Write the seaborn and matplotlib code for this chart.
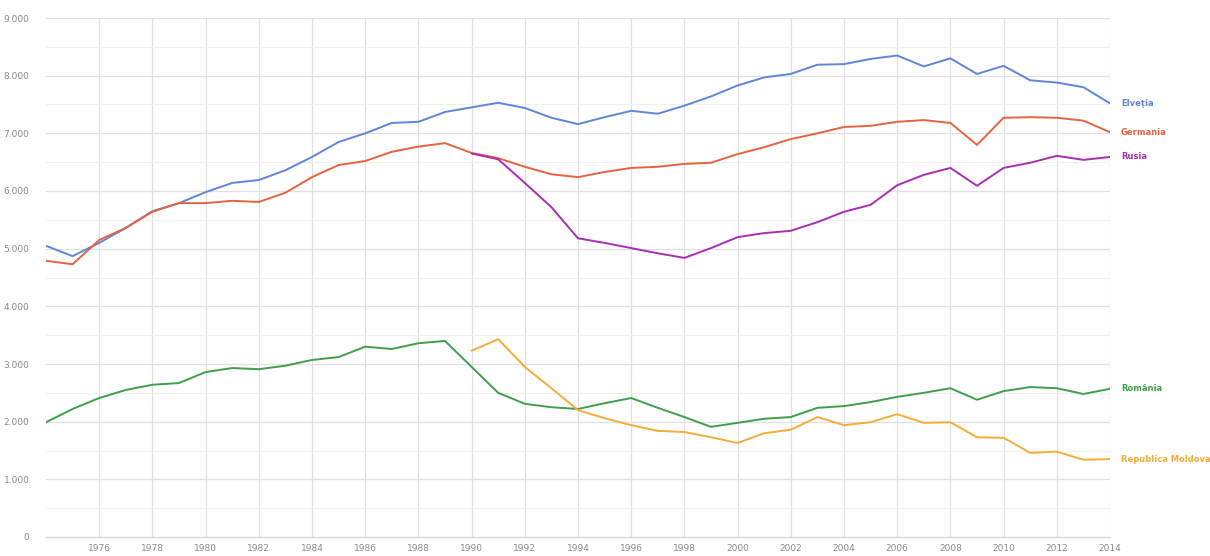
import numpy as np
import pandas as pd
import matplotlib
matplotlib.use("Agg")
import matplotlib.pyplot as plt
import seaborn as sns
from matplotlib.ticker import FuncFormatter, MultipleLocator

years = list(range(1974, 2015))

elvetia = [5050, 4870, 5100, 5360, 5650, 5790, 5980, 6140, 6190, 6360,
           6590, 6850, 7000, 7180, 7200, 7370, 7450, 7530, 7440, 7270,
           7160, 7280, 7390, 7340, 7480, 7640, 7830, 7970, 8030, 8190,
           8200, 8290, 8350, 8160, 8300, 8030, 8170, 7920, 7880, 7800,
           7520]
germania = [4790, 4730, 5150, 5360, 5640, 5790, 5790, 5830, 5810, 5970,
            6240, 6450, 6520, 6680, 6770, 6830, 6660, 6570, 6420, 6290,
            6240, 6330, 6400, 6420, 6470, 6490, 6640, 6760, 6900, 7000,
            7110, 7130, 7200, 7230, 7180, 6800, 7270, 7280, 7270, 7220,
            7020]
rusia = [None] * 16 + [6650, 6550, 6140, 5720, 5180, 5100, 5010, 4920,
                       4840, 5010, 5200, 5270, 5310, 5460, 5640, 5760,
                       6100, 6280, 6400, 6090, 6400, 6490, 6610, 6540,
                       6590]
romania = [1990, 2220, 2410, 2550, 2640, 2670, 2860, 2930, 2910, 2970,
           3070, 3120, 3300, 3260, 3360, 3400, 2950, 2500, 2310, 2250,
           2220, 2320, 2410, 2240, 2080, 1910, 1980, 2050, 2080, 2240,
           2270, 2340, 2430, 2500, 2580, 2380, 2530, 2600, 2580, 2480,
           2570]
moldova = [None] * 16 + [3230, 3430, 2950, 2580, 2200, 2060, 1940, 1840,
                         1820, 1730, 1630, 1800, 1860, 2080, 1940, 1990,
                         2130, 1980, 1990, 1730, 1720, 1460, 1480, 1340,
                         1350]

countries = ["Elveţia", "Germania", "Rusia", "România", "Republica Moldova"]
series = [elvetia, germania, rusia, romania, moldova]
colors = ["#5f86d9", "#e5633f", "#a92db5", "#3f9f4a", "#f5ad38"]

frames = []
for name, vals in zip(countries, series):
    frames.append(pd.DataFrame({"an": years, "valoare": vals, "tara": name}))
df = pd.concat(frames, ignore_index=True).dropna()

sns.set_theme(style="white")
plt.rcParams["font.family"] = ["DejaVu Sans"]

fig = plt.figure(figsize=(12.10, 5.56), dpi=100)
ax = fig.add_axes([46 / 1210, 1 - 537 / 556, (1110 - 46) / 1210, (537 - 18) / 556])

sns.lineplot(data=df, x="an", y="valoare", hue="tara", hue_order=countries,
             palette=colors, linewidth=1.4, legend=False, ax=ax, sort=True,
             estimator=None)

ax.set_xlim(1974, 2014)
ax.set_ylim(0, 9000)

ax.yaxis.set_major_locator(MultipleLocator(1000))
ax.yaxis.set_minor_locator(MultipleLocator(500))
ax.yaxis.set_major_formatter(FuncFormatter(lambda v, p: f"{int(v):,}".replace(",", ".")))
ax.set_xticks(list(range(1976, 2015, 2)))

ax.grid(True, which="major", axis="both", color="#e0e0e0", linewidth=0.9)
ax.grid(True, which="minor", axis="y", color="#f0f0f0", linewidth=0.8)
ax.set_axisbelow(True)

for s in ["top", "left", "right"]:
    ax.spines[s].set_visible(False)
ax.spines["bottom"].set_color("#d6d6d6")
ax.spines["bottom"].set_linewidth(0.9)

ax.tick_params(axis="both", which="both", length=0, labelsize=6.5, colors="#8a8a8a")
ax.tick_params(axis="x", pad=5)
ax.tick_params(axis="y", pad=12)
ax.set_xlabel("")
ax.set_ylabel("")

# series labels at the right end of each line
for name, vals, c in zip(countries, series, colors):
    ax.annotate(name, xy=(2014, vals[-1]), xytext=(8, 0),
                textcoords="offset points", ha="left", va="center",
                fontsize=6.0, fontweight="bold", color=c,
                annotation_clip=False)

fig.savefig("out.png", dpi=100)
